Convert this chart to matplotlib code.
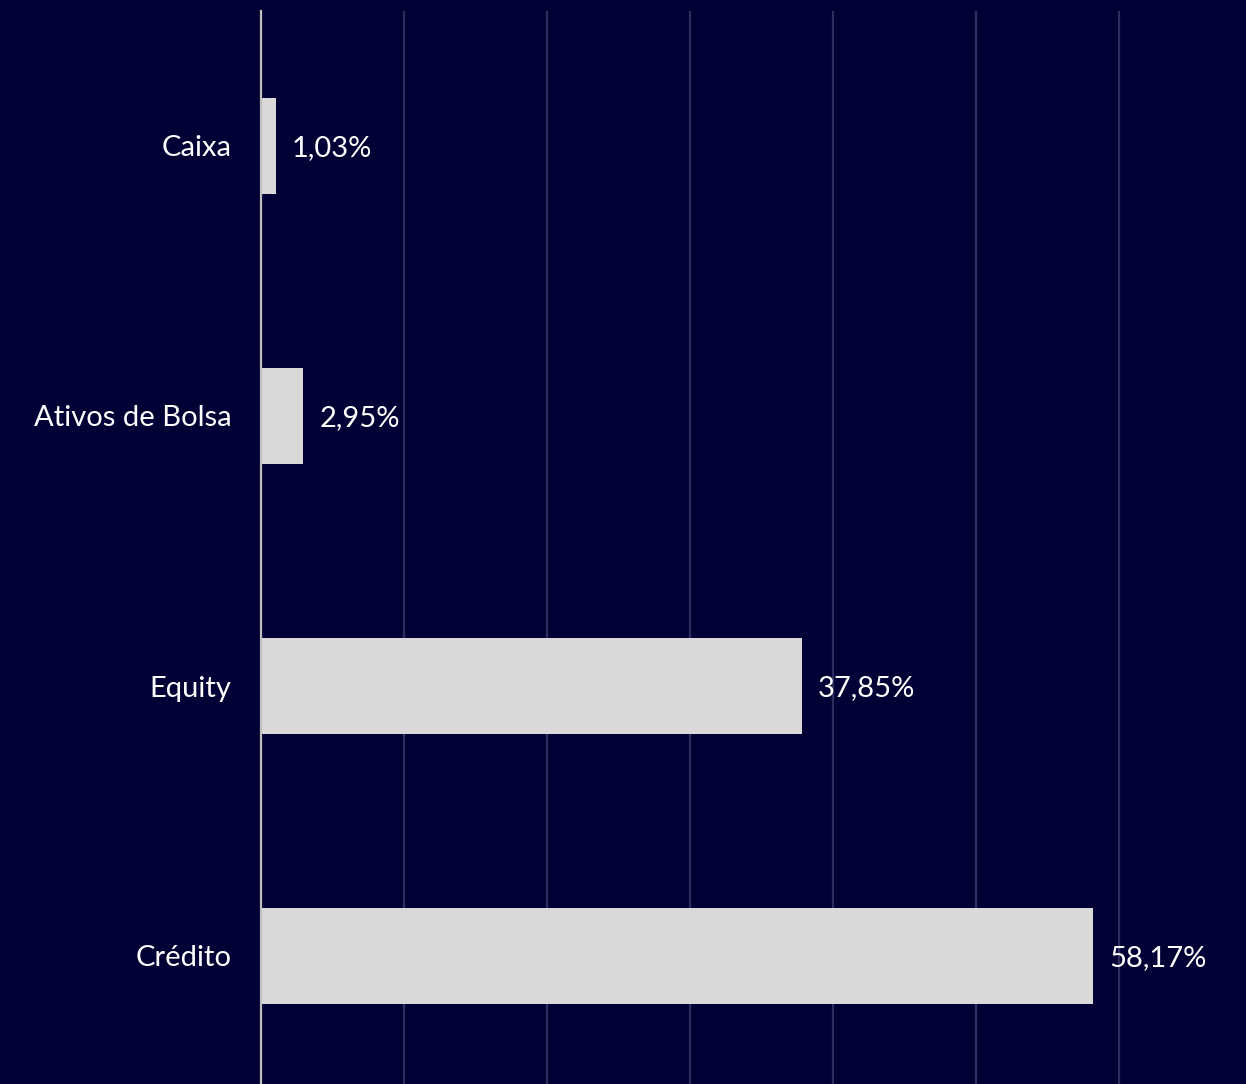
import matplotlib
matplotlib.use("Agg")
import matplotlib.pyplot as plt

categories = ["Caixa", "Ativos de Bolsa", "Equity", "Crédito"]
values = [1.03, 2.95, 37.85, 58.17]
labels = ["1,03%", "2,95%", "37,85%", "58,17%"]

bg = "#000035"
plt.rcParams['font.family'] = ['Lato', 'DejaVu Sans']

fig = plt.figure(figsize=(12.46, 10.84), dpi=100, facecolor=bg)
W, H = 1246, 1084
# y range -0.5..3.5 maps to pixel 11..1091
top_px, bot_px = 11, 1091
ax = fig.add_axes([261 / W, (H - bot_px) / H, (W - 261) / W, (bot_px - top_px) / H])
ax.set_facecolor(bg)

ypos = list(range(len(categories)))
ax.barh(ypos, values, height=0.352, color="#D9D9D9", zorder=3)
ax.set_ylim(3.5, -0.5)
ax.set_xlim(0, (W - 261) / 14.3)
ax.set_xticks([10, 20, 30, 40, 50, 60])
ax.xaxis.grid(True, color="#2E2E5E", linewidth=1.6, zorder=0)
ax.tick_params(axis='x', length=0, labelbottom=False)
ax.tick_params(axis='y', length=0, pad=21.5, labelsize=21, labelcolor="white")
ax.set_yticks(ypos)
ax.set_yticklabels(categories)
for s in ["top", "right", "bottom"]:
    ax.spines[s].set_visible(False)
ax.spines["left"].set_color("#BFBFBF")
ax.spines["left"].set_linewidth(1.6)
ax.spines["left"].set_zorder(4)

for y, v, lab in zip(ypos, values, labels):
    ax.annotate(lab, xy=(v, y), xytext=(16, -2), textcoords="offset pixels",
                va="center", ha="left", color="white", fontsize=21)

fig.savefig("out.png", dpi=100, facecolor=bg)
